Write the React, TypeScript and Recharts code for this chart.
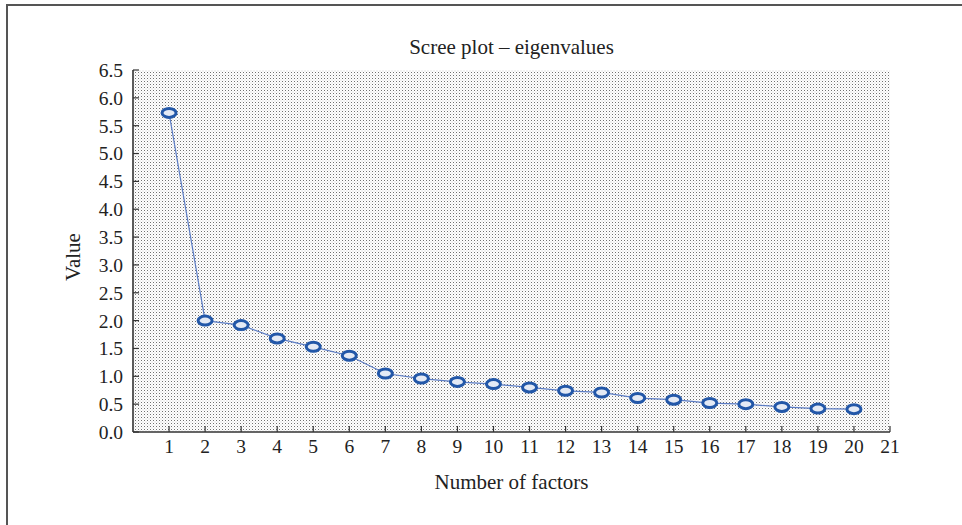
import React from "react";
import { LineChart, Line, XAxis, YAxis, CartesianGrid } from "recharts";

const factors = [1, 2, 3, 4, 5, 6, 7, 8, 9, 10, 11, 12, 13, 14, 15, 16, 17, 18, 19, 20];
const eigenvalues = [
  5.73, 2.0, 1.92, 1.68, 1.53, 1.37, 1.05, 0.96, 0.9, 0.86,
  0.8, 0.74, 0.71, 0.61, 0.58, 0.52, 0.5, 0.45, 0.42, 0.41,
];
const xTicks = [1, 2, 3, 4, 5, 6, 7, 8, 9, 10, 11, 12, 13, 14, 15, 16, 17, 18, 19, 20, 21];
const yTicks = [0, 0.5, 1, 1.5, 2, 2.5, 3, 3.5, 4, 4.5, 5, 5.5, 6, 6.5];

const data = factors.map((f, i) => ({ factor: f, value: eigenvalues[i] }));

const FONT = '"Liberation Serif", "DejaVu Serif", serif';
const INK = "#222";
const FRAME = "#333";

const EllipseDot = (props: any) => {
  const { cx, cy } = props;
  if (cx == null || cy == null) return null;
  return (
    <ellipse cx={cx} cy={cy} rx={7} ry={4.5} fill="#e4eaf5" stroke="#2257a8" strokeWidth={3} />
  );
};

export default function App() {
  return (
    <div style={{ position: "absolute", left: 0, top: 0, width: 962, height: 525, background: "#fff", fontFamily: FONT }}>
      {/* dotted plot background */}
      <svg width={0} height={0} style={{ position: "absolute" }}>
        <defs>
          <pattern id="dots" width={3} height={3} patternUnits="userSpaceOnUse">
            <rect x={0} y={0} width={3} height={3} fill="#fff" />
            <rect x={0} y={0} width={1} height={1} fill="#707070" />
            <rect x={1.5} y={1.5} width={1} height={1} fill="#c8c8c8" />
          </pattern>
        </defs>
      </svg>

      {/* outer frame (left + top only) */}
      <div style={{ position: "absolute", left: 6, top: 4, width: 956, height: 521, borderLeft: "2px solid #555", borderTop: "2px solid #555" }} />

      <LineChart
        width={962}
        height={525}
        data={data}
        margin={{ top: 70, right: 72, bottom: 53, left: 73 }}
        style={{ position: "absolute", left: 0, top: 0 }}
      >
        <CartesianGrid fill="url(#dots)" stroke="none" horizontal={false} vertical={false} />
        <XAxis
          dataKey="factor"
          type="number"
          domain={[0, 21]}
          ticks={xTicks}
          interval={0}
          height={40}
          tickSize={-6}
          tickMargin={13}
          axisLine={{ stroke: FRAME, strokeWidth: 1.6 }}
          tickLine={{ stroke: FRAME, strokeWidth: 1.2 }}
          tick={{ fontSize: 19.5, fill: INK, fontFamily: FONT }}
        />
        <XAxis
          xAxisId="top"
          orientation="top"
          dataKey="factor"
          type="number"
          domain={[0, 21]}
          ticks={xTicks}
          interval={0}
          height={0}
          tickSize={-6}
          tick={false}
          axisLine={{ stroke: FRAME, strokeWidth: 1.6 }}
          tickLine={{ stroke: FRAME, strokeWidth: 1.2 }}
        />
        <YAxis
          type="number"
          domain={[0, 6.5]}
          ticks={yTicks}
          interval={0}
          width={60}
          tickSize={-6}
          tickMargin={16}
          tickFormatter={(v: number) => v.toFixed(1)}
          axisLine={{ stroke: FRAME, strokeWidth: 1.6 }}
          tickLine={{ stroke: FRAME, strokeWidth: 1.2 }}
          tick={{ fontSize: 19.5, fill: INK, fontFamily: FONT }}
        />
        <YAxis
          yAxisId="right"
          orientation="right"
          type="number"
          domain={[0, 6.5]}
          ticks={yTicks}
          interval={0}
          width={0}
          tickSize={-6}
          tick={false}
          axisLine={{ stroke: FRAME, strokeWidth: 1.6 }}
          tickLine={{ stroke: FRAME, strokeWidth: 1.2 }}
        />
        <Line
          type="linear"
          dataKey="value"
          stroke="#5b7cc4"
          strokeWidth={1.2}
          dot={<EllipseDot />}
          activeDot={false}
          isAnimationActive={false}
        />
      </LineChart>

      <div style={{ position: "absolute", left: 0, width: 1023, top: 35, textAlign: "center", fontSize: 21, color: INK, lineHeight: "24px" }}>
        Scree plot – eigenvalues
      </div>
      <div style={{ position: "absolute", left: 0, width: 1023, top: 470, textAlign: "center", fontSize: 21, color: INK, lineHeight: "24px" }}>
        Number of factors
      </div>
      <div
        style={{
          position: "absolute",
          left: 73,
          top: 257,
          transform: "translate(-50%, -50%) rotate(-90deg)",
          fontSize: 21,
          color: INK,
          whiteSpace: "nowrap",
          lineHeight: "24px",
        }}
      >
        Value
      </div>
    </div>
  );
}
